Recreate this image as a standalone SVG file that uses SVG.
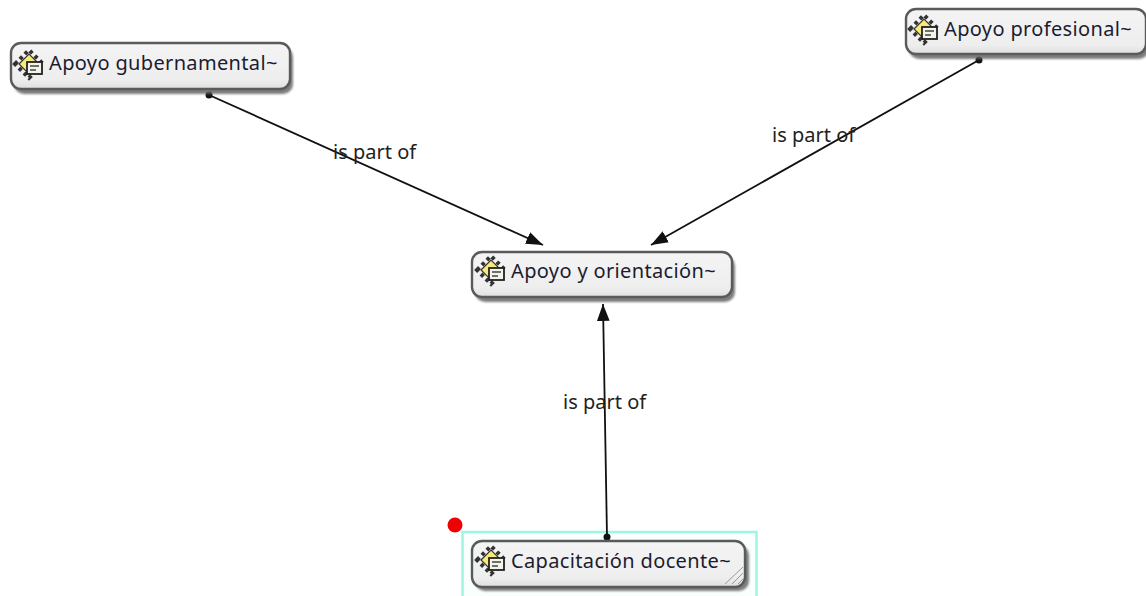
<svg xmlns="http://www.w3.org/2000/svg" width="1146" height="596" viewBox="0 0 1146 596">
<style>
.box{fill:url(#g);stroke:#5a5a5a;stroke-width:2.4}
.shadow{fill:#666;opacity:.85;filter:url(#b)}
.t{font-family:"Noto Sans","DejaVu Sans",sans-serif;font-size:20px;letter-spacing:.35px;fill:#1c1c30}
.l{font-family:"Noto Sans","DejaVu Sans",sans-serif;font-size:20px;fill:#222}
.c{stroke:#111;stroke-width:1.8;fill:none;marker-end:url(#a)}
.d{fill:#111}
</style>
<defs>
<linearGradient id="g" x1="0" y1="0" x2="0" y2="1"><stop offset="0" stop-color="#f4f4f4"/><stop offset=".8" stop-color="#eeeeee"/><stop offset="1" stop-color="#dedede"/></linearGradient>
<filter id="b" x="-5%" y="-20%" width="110%" height="140%"><feGaussianBlur stdDeviation="1.3"/></filter>
<marker id="a" markerUnits="userSpaceOnUse" markerWidth="18" markerHeight="14" refX="16" refY="6" orient="auto" viewBox="0 0 17 12"><path d="M0 0L16 6L0 12z" fill="#111"/></marker>
<g id="icon">
<path d="M-14 0L0 -14L14 0L0 14z" fill="none" stroke="#333" stroke-width="4" stroke-dasharray="3.500 3.500"/>
<path d="M-10 0L0 -10L10 0L0 10z" fill="#f6ea78" stroke="#333" stroke-width="1.2"/>
<rect x="-2" y="-2" width="15" height="12" fill="#f3f3ea" stroke="#222" stroke-width="1.8"/>
<path d="M1 2H10M1 6H7" stroke="#444" stroke-width="1.3"/>
</g>
</defs>
<rect id="selection-frame" x="462.500" y="532" width="294" height="70" fill="#f8fffd" stroke="#9ff5e0" stroke-width="2.500"/>
<g id="connectors">
<path class="c" d="M209 95L543 245"/>
<path class="c" d="M979 60L651 245"/>
<path class="c" d="M607 537L603 304"/>
<circle class="d" cx="209" cy="95" r="3.500"/>
<circle class="d" cx="979" cy="60" r="3.500"/>
<circle class="d" cx="607" cy="537" r="3.500"/>
</g>
<g id="labels">
<text class="l" x="333" y="159">is part of</text>
<text class="l" x="772" y="142">is part of</text>
<text class="l" x="563" y="409">is part of</text>
</g>
<g id="node-gubernamental">
<rect class="shadow" x="14" y="47" width="279" height="47" rx="10"/>
<rect class="box" x="11" y="43" width="279" height="46" rx="10"/>
<use href="#icon" x="29" y="64"/>
<text class="t" x="49" y="70">Apoyo gubernamental~</text>
</g>
<g id="node-profesional">
<rect class="shadow" x="909" y="13" width="240" height="46" rx="10"/>
<rect class="box" x="906" y="9" width="240" height="45" rx="10"/>
<use href="#icon" x="924" y="29"/>
<text class="t" x="944" y="36">Apoyo profesional~</text>
</g>
<g id="node-orientacion">
<rect class="shadow" x="475" y="256" width="260" height="46" rx="10"/>
<rect class="box" x="472" y="252" width="260" height="45" rx="10"/>
<use href="#icon" x="491" y="270"/>
<text class="t" x="511" y="278">Apoyo y orientación~</text>
</g>
<g id="node-capacitacion">
<circle cx="455" cy="525" r="7.500" fill="#f00000"/>
<rect class="shadow" x="475" y="545" width="274" height="46" rx="10"/>
<rect class="box" x="472" y="541" width="273" height="46" rx="10"/>
<path d="M725 584L743 567M732 584L743 573M738 584L743 579" stroke="#999" stroke-width="1" fill="none"/>
<use href="#icon" x="491" y="560"/>
<text class="t" x="511" y="568">Capacitación docente~</text>
</g>
</svg>
